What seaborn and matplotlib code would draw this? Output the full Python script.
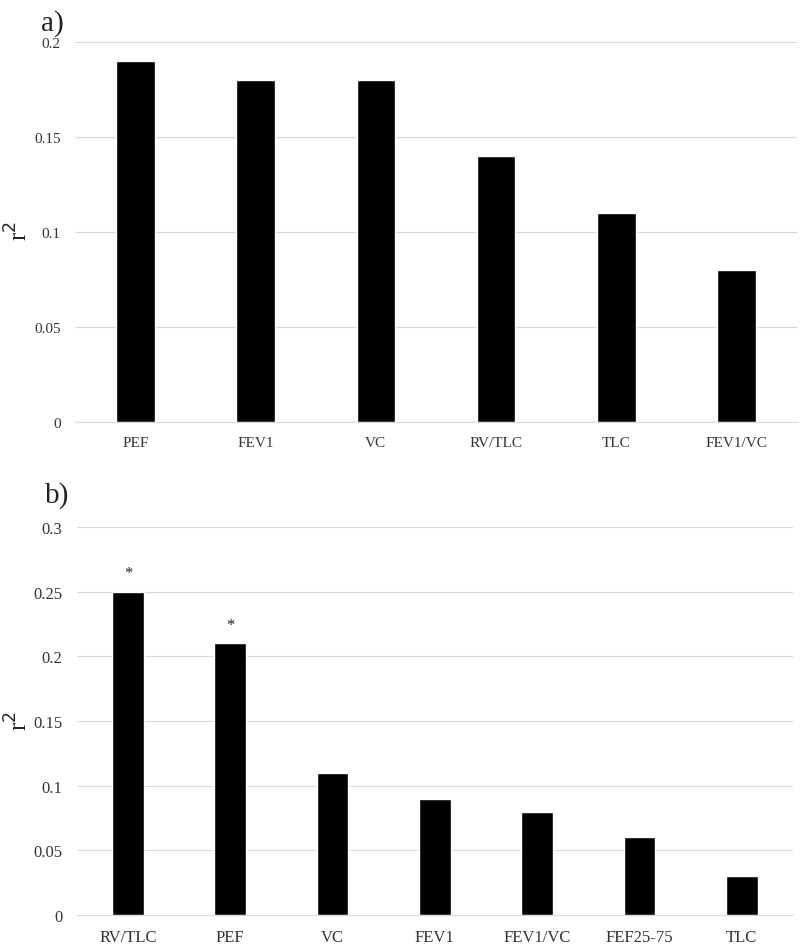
import pandas as pd
import numpy as np
import matplotlib.pyplot as plt
import seaborn as sns

# panel a data
cats_a = ['PEF', 'FEV1', 'VC', 'RV/TLC', 'TLC', 'FEV1/VC']
vals_a = [0.19, 0.18, 0.18, 0.14, 0.11, 0.08]

# panel b data
cats_b = ['RV/TLC', 'PEF', 'VC', 'FEV1', 'FEV1/VC', 'FEF25-75', 'TLC']
vals_b = [0.25, 0.21, 0.11, 0.09, 0.08, 0.06, 0.03]
signif_b = ['*', '*', '', '', '', '', '']

sns.set_theme(style='white')
plt.rcParams['font.family'] = ['Liberation Serif', 'DejaVu Serif']

fig = plt.figure(figsize=(8, 9.45), dpi=100)
ax_a = fig.add_axes([0.094, 0.5524, 0.902, 0.4021])
ax_b = fig.add_axes([0.096, 0.0307, 0.895, 0.4106])


def style_axis(ax, ymax, step, fs):
    ax.set_ylim(0, ymax)
    ax.set_yticks(np.arange(0, ymax + step / 2, step))
    ax.set_yticklabels(['0'] + ['%g' % t for t in np.arange(step, ymax + step / 2, step)])
    ax.yaxis.grid(True, color='#d9d9d9', linewidth=0.8)
    ax.set_axisbelow(True)
    for s in ['top', 'right', 'left']:
        ax.spines[s].set_visible(False)
    ax.spines['bottom'].set_color('#d9d9d9')
    ax.spines['bottom'].set_linewidth(0.8)
    ax.tick_params(axis='both', length=0, labelsize=fs, colors='#333333')
    ax.tick_params(axis='y', pad=10.5)
    ax.tick_params(axis='x', pad=10)
    ax.set_xlabel('')
    ax.set_ylabel('')


df_a = pd.DataFrame({'param': cats_a, 'r2': vals_a})
sns.barplot(data=df_a, x='param', y='r2', color='black', width=0.32,
            saturation=1, ax=ax_a)
style_axis(ax_a, 0.2, 0.05, 11)
ax_a.set_xlim(-0.5, len(cats_a) - 0.5)

df_b = pd.DataFrame({'param': cats_b, 'r2': vals_b})
sns.barplot(data=df_b, x='param', y='r2', color='black', width=0.31,
            saturation=1, ax=ax_b)
style_axis(ax_b, 0.3, 0.05, 12)
ax_b.set_xlim(-0.5, len(cats_b) - 0.5)
for i, (v, s) in enumerate(zip(vals_b, signif_b)):
    if s:
        ax_b.text(i, v + 0.008, s, ha='center', va='bottom', fontsize=12,
                  color='#222222')

# y labels
fig.text(0.024, 0.755, 'r$^2$', fontsize=18, rotation=90, ha='center',
         va='center', color='#222222')
fig.text(0.024, 0.237, 'r$^2$', fontsize=18, rotation=90, ha='center',
         va='center', color='#222222')

fig.text(0.051, 0.968, 'a)', fontsize=21, color='#222222')
fig.text(0.056, 0.468, 'b)', fontsize=21, color='#222222')

fig.savefig('out.png', dpi=100)
plt.close(fig)
